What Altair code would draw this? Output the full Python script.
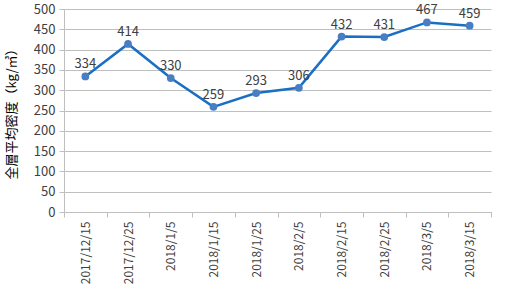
import altair as alt
import pandas as pd

dates = ["2017/12/15", "2017/12/25", "2018/1/5", "2018/1/15", "2018/1/25",
         "2018/2/5", "2018/2/15", "2018/2/25", "2018/3/5", "2018/3/15"]
values = [334, 414, 330, 259, 293, 306, 432, 431, 467, 459]
y_title = "全層平均密度（kg/㎥）"

df = pd.DataFrame({"date": dates, "value": values})

FONT = "Noto Sans CJK JP"
GRAY = "#bfbfbf"
TXT = "#404040"

x = alt.X("date:N", sort=dates, title=None,
          scale=alt.Scale(paddingInner=0, paddingOuter=0),
          axis=alt.Axis(labelAngle=-90, tickBand="extent", domainColor=GRAY,
                        tickColor=GRAY, tickSize=5, labelFontSize=12,
                        labelColor=TXT, labelFont=FONT, labelPadding=4, grid=False))
y = alt.Y("value:Q", title=y_title,
          scale=alt.Scale(domain=[0, 500]),
          axis=alt.Axis(values=list(range(0, 501, 50)), gridColor=GRAY,
                        domainColor=GRAY, tickColor=GRAY, tickSize=5,
                        labelFontSize=13, labelColor=TXT, labelFont=FONT,
                        titleFont=FONT, titleFontSize=13, titleFontWeight="normal",
                        titleColor="#000000", titlePadding=15, labelPadding=4))

base = alt.Chart(df).encode(x=x, y=y)
line = base.mark_line(color="#1a6fc4", strokeWidth=2.5)
pts = base.mark_point(filled=True, size=60, color="#4a7ec2", opacity=1)
labels = base.mark_text(dy=-12, fontSize=13, color=TXT, font=FONT).encode(text="value:Q")

chart = (line + pts + labels).properties(
    width=427, height=203,
    autosize=alt.AutoSizeParams(type="none"),
    padding={"left": 64, "top": 9, "right": 17, "bottom": 80},
).configure_view(stroke=None)

chart.save("out.html", embed_options={"renderer": "svg", "actions": False})
